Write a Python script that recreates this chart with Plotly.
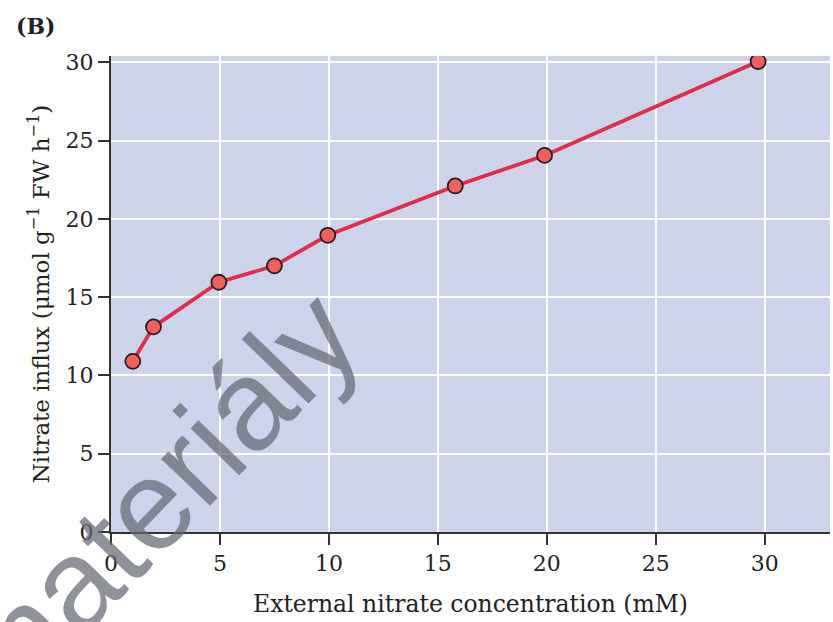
import plotly.graph_objects as go

# Data
concentration_mM = [1.0, 1.95, 4.95, 7.5, 9.95, 15.8, 19.9, 29.7]
nitrate_influx = [10.9, 13.1, 15.95, 17.0, 18.95, 22.1, 24.05, 30.05]

x_ticks = [0, 5, 10, 15, 20, 25, 30]
y_ticks = [0, 5, 10, 15, 20, 25, 30]

x_title = "External nitrate concentration (mM)"
y_title = "Nitrate influx (μmol g<sup>−1</sup> FW h<sup>−1</sup>)"
panel_label = "<b>(B)</b>"
watermark = "materiály"

SERIF = "DejaVu Serif, Liberation Serif, serif"
INK = "#222222"

fig = go.Figure()
fig.add_trace(go.Scatter(
    x=concentration_mM, y=nitrate_influx,
    mode="lines+markers",
    line=dict(color="#df2d4a", width=3.8),
    marker=dict(size=15, color="#f2605e", line=dict(color="#2b1b1e", width=1.8)),
    showlegend=False,
))

fig.update_layout(
    width=833, height=622,
    margin=dict(l=111, r=3, t=56, b=90),
    paper_bgcolor="white",
    plot_bgcolor="#ced3ec",
    font=dict(family=SERIF, color=INK, size=22),
    xaxis=dict(
        range=[0, 33], tickvals=x_ticks, ticktext=[str(v) for v in x_ticks],
        ticks="outside", ticklen=11, tickwidth=2, tickcolor="#333333",
        showline=True, linecolor="#333333", linewidth=2,
        showgrid=True, gridcolor="white", gridwidth=2, zeroline=False,
        tickfont=dict(family=SERIF, size=22, color=INK),
        title=dict(text=x_title, font=dict(family=SERIF, size=23.5, color=INK), standoff=20),
    ),
    yaxis=dict(
        range=[0, 30.4], tickvals=y_ticks, ticktext=[str(v) for v in y_ticks],
        ticks="outside", ticklen=11, tickwidth=2, tickcolor="#333333",
        showline=True, linecolor="#333333", linewidth=2,
        showgrid=True, gridcolor="white", gridwidth=2, zeroline=False,
        tickfont=dict(family=SERIF, size=22, color=INK),
        title=dict(text=y_title, font=dict(family=SERIF, size=23, color=INK), standoff=10),
    ),
    annotations=[
        dict(text=panel_label, xref="paper", yref="paper", x=-0.135, y=1.064,
             xanchor="left", yanchor="middle", showarrow=False,
             font=dict(family=SERIF, size=22, color=INK)),
        dict(text=watermark, xref="paper", yref="paper", x=0.06, y=0.068,
             xanchor="center", yanchor="middle", showarrow=False, textangle=-46,
             font=dict(family="Liberation Sans, Arial, sans-serif", size=128,
                       color="rgba(100,104,115,0.72)")),
    ],
)

fig.write_html("out.html", config={"displayModeBar": False},
               post_script="document.body.style.margin='0';document.body.style.overflow='hidden';")
